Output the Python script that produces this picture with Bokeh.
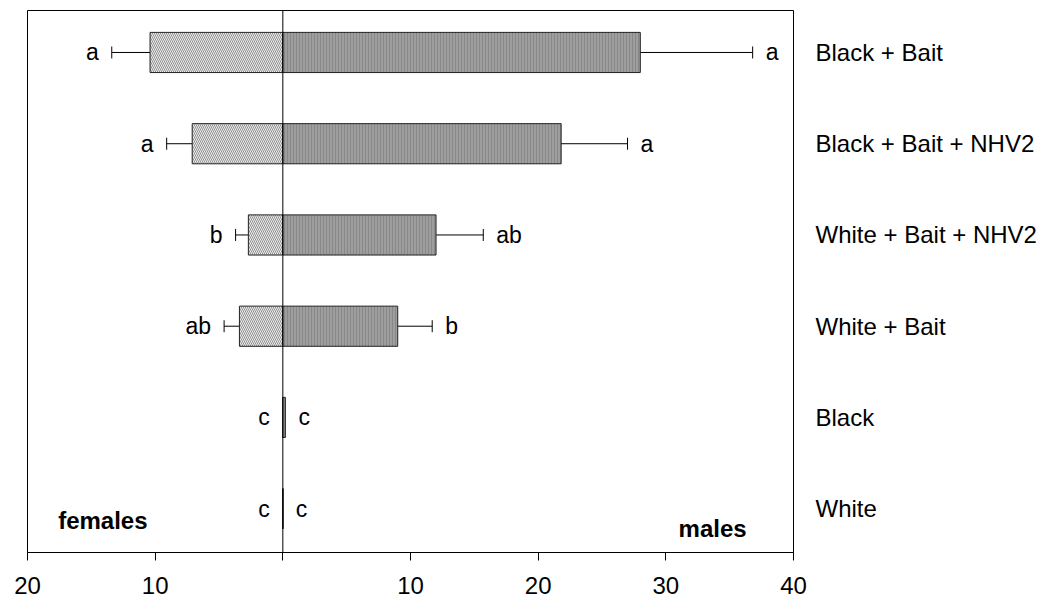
from bokeh.plotting import figure
from bokeh.models import (ColumnDataSource, Range1d, FixedTicker, Span, Whisker, TeeHead, Label)
from bokeh.core.properties import value
from bokeh.embed import file_html
from bokeh.resources import INLINE

# ---- data (top row first) ----
groups = ["Black + Bait", "Black + Bait + NHV2", "White + Bait + NHV2", "White + Bait", "Black", "White"]
females = [10.4, 7.1, 2.7, 3.4, 0.0, 0.0]
females_se = [3.0, 2.0, 1.0, 1.2, 0.0, 0.0]
males = [28.0, 21.8, 12.0, 9.0, 0.2, 0.0]
males_se = [8.8, 5.2, 3.7, 2.7, 0.0, 0.0]
female_letters = ["a", "a", "b", "ab", "c", "c"]
male_letters = ["a", "a", "ab", "b", "c", "c"]
x_ticks = [-20, -10, 0, 10, 20, 30, 40]
x_tick_labels = ["20", "10", "", "10", "20", "30", "40"]

FONT = "Liberation Sans"
n = len(groups)
ys = [n - 1 - i for i in range(n)]

src = ColumnDataSource(dict(
    y=ys,
    f_left=[-v for v in females],
    m_right=males,
    f_lo=[-(v + s) for v, s in zip(females, females_se)],
    f_hi=[-(v - s) for v, s in zip(females, females_se)],
    m_lo=[v - s for v, s in zip(males, males_se)],
    m_hi=[v + s for v, s in zip(males, males_se)],
    f_let=female_letters,
    m_let=male_letters,
))

p = figure(width=1061, height=609, output_backend="svg", toolbar_location=None,
           x_range=Range1d(-20, 40), y_range=Range1d(-0.48, 5.46),
           y_axis_location="right", min_border_left=27, min_border_right=268,
           min_border_top=10, min_border_bottom=57)
p.background_fill_color = "white"
p.border_fill_color = "white"
p.outline_line_color = "black"
p.outline_line_width = 1
p.xgrid.visible = False
p.ygrid.visible = False

# bars
p.hbar(y="y", left="f_left", right=0, height=0.44, source=src,
       fill_color="#ececec", line_color="#222222", line_width=1,
       hatch_pattern="left_diagonal_line", hatch_color="#7a7a7a",
       hatch_scale=4, hatch_weight=0.8)
p.hbar(y="y", left=0, right="m_right", height=0.44, source=src,
       fill_color="#9e9e9e", line_color="#222222", line_width=1,
       hatch_pattern="vertical_line", hatch_color="#838383",
       hatch_scale=3, hatch_weight=0.8)

# error bars (only where SE > 0)
idx_f = [i for i in range(n) if females_se[i] > 0]
idx_m = [i for i in range(n) if males_se[i] > 0]
fsrc = ColumnDataSource(dict(y=[ys[i] for i in idx_f],
                             lo=[src.data["f_lo"][i] for i in idx_f],
                             hi=[src.data["f_hi"][i] for i in idx_f]))
msrc = ColumnDataSource(dict(y=[ys[i] for i in idx_m],
                             lo=[src.data["m_lo"][i] for i in idx_m],
                             hi=[src.data["m_hi"][i] for i in idx_m]))
for s in (fsrc, msrc):
    p.add_layout(Whisker(base="y", lower="lo", upper="hi", dimension="width", source=s,
                         line_color="black", line_width=1,
                         lower_head=TeeHead(size=12, line_color="black", line_width=1),
                         upper_head=TeeHead(size=12, line_color="black", line_width=1)))

# center line
p.add_layout(Span(location=0, dimension="height", line_color="black", line_width=1))

# significance letters
p.text(x="f_lo", y="y", text="f_let", source=src, text_align="right",
       text_baseline="middle", x_offset=-13, text_font=value(FONT),
       text_font_size="23px", text_color="black")
p.text(x="m_hi", y="y", text="m_let", source=src, text_align="left",
       text_baseline="middle", x_offset=13, text_font=value(FONT),
       text_font_size="23px", text_color="black")

# females / males labels
p.add_layout(Label(x=-17.6, y=-0.13, text="females", text_font=FONT, text_font_size="24px",
                   text_font_style="bold", text_baseline="middle", text_align="left",
                   text_color="black"))
p.add_layout(Label(x=31.0, y=-0.22, text="males", text_font=FONT, text_font_size="24px",
                   text_font_style="bold", text_baseline="middle", text_align="left",
                   text_color="black"))

# bottom axis
xa = p.xaxis[0]
xa.ticker = FixedTicker(ticks=x_ticks)
xa.major_label_overrides = {t: l for t, l in zip(x_ticks, x_tick_labels)}
xa.major_tick_out = 8
xa.major_tick_in = 0
xa.minor_tick_line_color = None
xa.axis_line_color = "black"
xa.major_label_text_font = FONT
xa.major_label_text_font_size = "24px"
xa.major_label_text_color = "black"
xa.major_label_standoff = 16

# right axis with group names
ya = p.yaxis[0]
ya.ticker = FixedTicker(ticks=ys)
ya.major_label_overrides = {y: g for y, g in zip(ys, groups)}
ya.axis_line_color = None
ya.major_tick_line_color = None
ya.minor_tick_line_color = None
ya.major_label_standoff = 16
ya.major_label_text_font = FONT
ya.major_label_text_font_size = "24px"
ya.major_label_text_color = "black"

open("out.html", "w").write(file_html(p, INLINE))
